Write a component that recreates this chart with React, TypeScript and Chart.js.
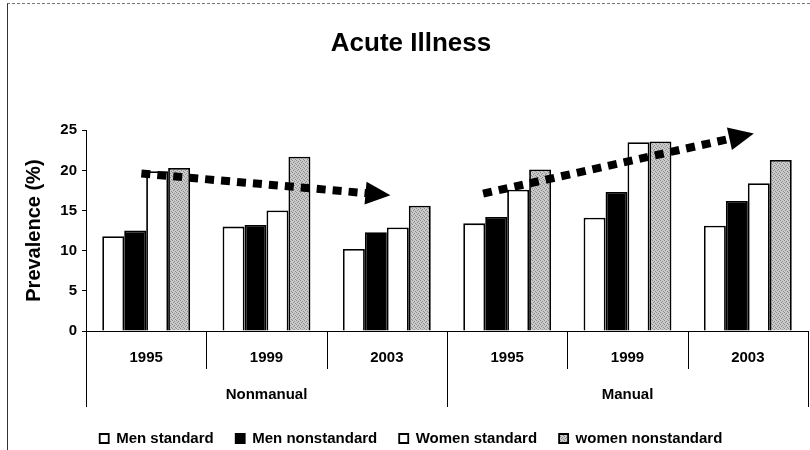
import React, { useEffect, useRef } from "react";
import { Chart, registerables } from "chart.js";

Chart.register(...registerables);

// ---- data ----
const years = ["1995", "1999", "2003", "1995", "1999", "2003"];
const groupNames = ["Nonmanual", "Manual"];
const groupSize = 3;
const seriesNames = ["Men standard", "Men nonstandard", "Women standard", "women nonstandard"];
const menStandard = [11.8, 13.0, 10.2, 13.4, 14.1, 13.1];
const menNonstandard = [12.5, 13.2, 12.3, 14.2, 17.3, 16.2];
const womenStandard = [19.9, 15.0, 12.9, 17.6, 23.5, 18.4];
const womenNonstandard = [20.3, 21.7, 15.6, 20.1, 23.6, 21.3];
const yTicks = [0, 5, 10, 15, 20, 25];
// trend arrows: [category position, value]
const arrowStarts = [
  [-0.04, 19.6],
  [2.8, 17.1],
];
const arrowEnds = [
  [2.03, 16.9],
  [5.05, 24.6],
];

const FONT = "'Liberation Sans', Arial, sans-serif";

function makePattern(): CanvasPattern | string {
  const c = document.createElement("canvas");
  c.width = 4;
  c.height = 4;
  const g = c.getContext("2d");
  if (!g) return "#bababa";
  g.fillStyle = "#cacaca";
  g.fillRect(0, 0, 4, 4);
  g.fillStyle = "#8a8a8a";
  [
    [0, 0],
    [2, 1],
    [1, 2],
    [3, 3],
  ].forEach(([x, y]) => g.fillRect(x, y, 1, 1));
  return g.createPattern(c, "repeat") || "#bababa";
}

function drawArrow(ctx: CanvasRenderingContext2D, x1: number, y1: number, x2: number, y2: number) {
  const ang = Math.atan2(y2 - y1, x2 - x1);
  const cos = Math.cos(ang);
  const sin = Math.sin(ang);
  const headLen = 25;
  const headW = 23;
  const bx = x2 - headLen * cos;
  const by = y2 - headLen * sin;
  ctx.save();
  ctx.strokeStyle = "#000";
  ctx.fillStyle = "#000";
  ctx.lineWidth = 8;
  ctx.lineCap = "butt";
  ctx.setLineDash([9, 7]);
  ctx.beginPath();
  ctx.moveTo(x1, y1);
  ctx.lineTo(bx + 2 * cos, by + 2 * sin);
  ctx.stroke();
  ctx.setLineDash([]);
  ctx.beginPath();
  ctx.moveTo(x2, y2);
  ctx.lineTo(bx - (headW / 2) * sin, by + (headW / 2) * cos);
  ctx.lineTo(bx + (headW / 2) * sin, by - (headW / 2) * cos);
  ctx.closePath();
  ctx.fill();
  ctx.restore();
}

const decorPlugin = {
  id: "decor",
  afterDatasetsDraw(chart: any) {
    const ctx = chart.ctx as CanvasRenderingContext2D;
    const xs = chart.scales.x;
    const ys = chart.scales.y;
    for (let i = 0; i < arrowStarts.length; i++) {
      const [sx, sv] = arrowStarts[i];
      const [ex, ev] = arrowEnds[i];
      drawArrow(ctx, xs.getPixelForValue(sx), ys.getPixelForValue(sv), xs.getPixelForValue(ex), ys.getPixelForValue(ev));
    }
  },
  afterDraw(chart: any) {
    const ctx = chart.ctx as CanvasRenderingContext2D;
    const ca = chart.chartArea;
    const n = years.length;
    const w = (ca.right - ca.left) / n;
    ctx.save();
    ctx.strokeStyle = "#000";
    ctx.lineWidth = 1;
    for (let i = 0; i <= n; i++) {
      const x = Math.round(ca.left + i * w) + 0.5;
      const major = i % groupSize === 0;
      ctx.beginPath();
      ctx.moveTo(x, ca.bottom);
      ctx.lineTo(x, ca.bottom + (major ? 76 : 38));
      ctx.stroke();
    }
    ctx.fillStyle = "#000";
    ctx.font = `bold 15px ${FONT}`;
    ctx.textAlign = "center";
    ctx.textBaseline = "middle";
    groupNames.forEach((g, gi) => {
      const cx = ca.left + (gi * groupSize + groupSize / 2) * w;
      ctx.fillText(g, cx, ca.bottom + 64);
    });
    ctx.restore();
  },
};

export default function App() {
  const ref = useRef<HTMLCanvasElement | null>(null);

  useEffect(() => {
    document.body.style.margin = "0";
    const canvas = ref.current;
    if (!canvas) return;
    const pattern = makePattern();
    const fills = ["#ffffff", "#000000", "#ffffff", pattern];
    const values = [menStandard, menNonstandard, womenStandard, womenNonstandard];
    const chart = new Chart(canvas, {
      type: "bar",
      data: {
        labels: years,
        datasets: seriesNames.map((name, i) => ({
          label: name,
          data: values[i],
          backgroundColor: fills[i] as any,
          borderColor: "#000",
          borderWidth: 1.8,
          categoryPercentage: 0.73,
          barPercentage: 1.0,
        })),
      },
      options: {
        responsive: false,
        animation: false,
        layout: { padding: { left: 14, right: 2, top: 6, bottom: -6 } },
        plugins: {
          tooltip: { enabled: false },
          title: {
            display: true,
            text: "Acute Illness",
            color: "#000",
            font: { family: FONT, size: 26, weight: "bold" },
            padding: { top: 22, bottom: 71 },
          },
          legend: {
            display: true,
            position: "bottom",
            align: "center",
            labels: {
              color: "#000",
              font: { family: FONT, size: 15, weight: "bold" },
              boxWidth: 9,
              boxHeight: 9,
              padding: 22,
            },
          },
        },
        scales: {
          x: {
            grid: { display: true, drawOnChartArea: false, drawTicks: false },
            border: { display: true, color: "#000", width: 1 },
            ticks: { color: "#000", font: { family: FONT, size: 15, weight: "bold" }, padding: 18 },
            afterFit: (s: any) => {
              s.height = 78;
            },
          },
          y: {
            min: 0,
            max: 25,
            afterBuildTicks: (s: any) => {
              s.ticks = yTicks.map((v) => ({ value: v }));
            },
            ticks: { color: "#000", font: { family: FONT, size: 15, weight: "bold" }, padding: 5 },
            grid: { display: true, drawOnChartArea: false, drawTicks: true, tickLength: 4, color: "#000" },
            border: { display: true, color: "#000", width: 1 },
            title: {
              display: true,
              text: "Prevalence (%)",
              color: "#000",
              font: { family: FONT, size: 20, weight: "bold" },
              padding: { top: 8, bottom: 0 },
            },
            afterFit: (s: any) => {
              s.width = 72;
            },
          },
        },
      },
      plugins: [decorPlugin],
    });
    return () => chart.destroy();
  }, []);

  return (
    <div style={{ position: "relative", width: 810, height: 450, background: "#fff" }}>
      <canvas ref={ref} width={810} height={450} style={{ display: "block" }} />
      <div
        style={{
          position: "absolute",
          left: 7,
          top: 3,
          width: 803,
          height: 447,
          borderTop: "1px dashed #777",
          borderLeft: "1px solid #333",
          pointerEvents: "none",
          boxSizing: "border-box",
        }}
      />
    </div>
  );
}
